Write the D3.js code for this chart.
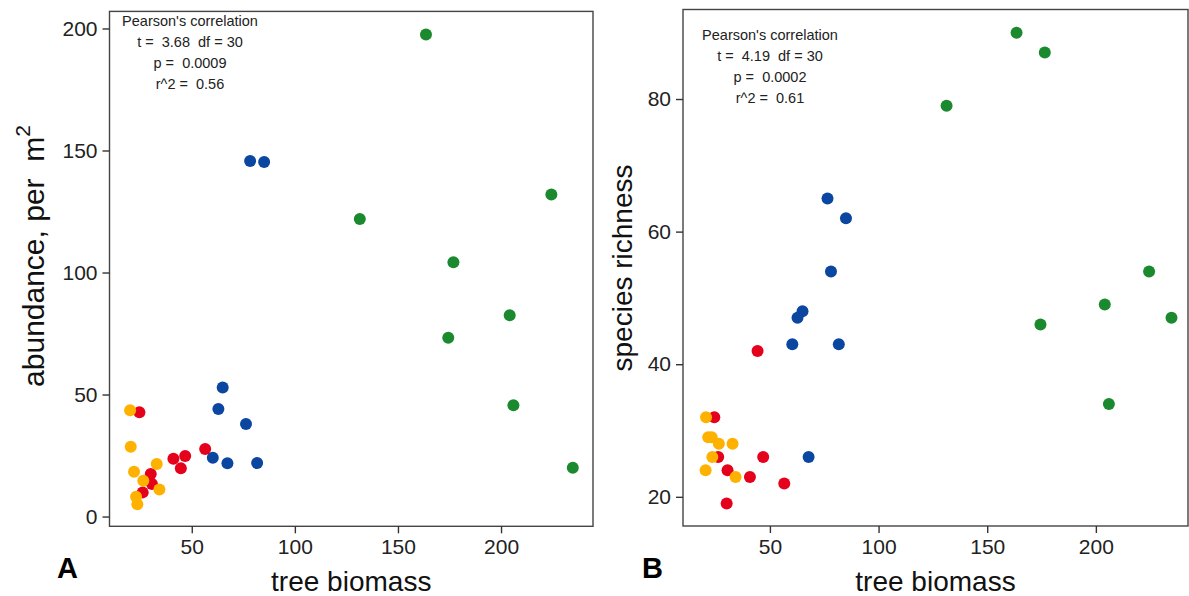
<!DOCTYPE html>
<html>
<head>
<meta charset="utf-8">
<script src="https://cdn.jsdelivr.net/npm/d3@7"></script>
<style>
  html, body { margin: 0; padding: 0; background: #fff; }
  svg text { font-family: "Liberation Sans", Arial, sans-serif; }
</style>
</head>
<body>
<svg id="chart" width="1189" height="596"></svg>
<script>
// ---- data ----
const groupNames = ["G1", "G2", "G3", "G4"];
const groupColors = ["#1b8a2f", "#0b46a1", "#e5001b", "#ffb100"];

// Panel A: tree biomass vs abundance per m^2
const biomassA_G1 = [163.6, 224.4, 131.5, 176.9, 204.2, 174.4, 206.0, 234.8];
const abundance_G1 = [197.5, 132.0, 121.9, 104.2, 82.5, 73.3, 45.6, 20.0];
const biomassA_G2 = [78.3, 85.1, 65.0, 62.9, 76.3, 60.2, 67.3, 81.7];
const abundance_G2 = [145.7, 145.3, 52.9, 44.1, 37.9, 24.1, 21.8, 21.9];
const biomassA_G3 = [24.6, 30.1, 30.7, 26.2, 41.1, 46.8, 44.7, 56.5];
const abundance_G3 = [42.7, 17.4, 13.3, 9.9, 23.7, 24.8, 19.8, 27.7];
const biomassA_G4 = [20.1, 20.4, 22.0, 33.0, 26.5, 34.3, 23.0, 23.6];
const abundance_G4 = [43.6, 28.6, 18.4, 21.5, 14.7, 11.1, 8.1, 5.0];

// Panel B: tree biomass vs species richness
const biomassB_G1 = [163.5, 176.5, 131.3, 224.5, 204.1, 234.8, 174.5, 206.0];
const richness_G1 = [90, 87, 79, 54, 49, 47, 46, 34];
const biomassB_G2 = [76.5, 85.0, 78.1, 65.0, 62.7, 60.3, 81.7, 67.8];
const richness_G2 = [65, 62, 54, 48, 47, 43, 43, 26];
const biomassB_G3 = [44.3, 24.4, 26.2, 46.9, 30.5, 40.8, 56.6, 30.1];
const richness_G3 = [42, 32, 26, 26, 24, 23, 22, 19];
const biomassB_G4 = [20.6, 21.6, 23.2, 26.5, 32.8, 23.5, 20.4, 34.2];
const richness_G4 = [32, 29, 29, 28, 28, 26, 24, 23];

const xTicks = [50, 100, 150, 200];
const yTicksA = [0, 50, 100, 150, 200];
const yTicksB = [20, 40, 60, 80];

const statsA = ["Pearson's correlation", "t =  3.68  df = 30", "p =  0.0009", "r^2 =  0.56"];
const statsB = ["Pearson's correlation", "t =  4.19  df = 30", "p =  0.0002", "r^2 =  0.61"];

function zipGroups(xs, ys) {
  const out = [];
  xs.forEach((xa, gi) => xa.forEach((x, i) => out.push({ g: gi, x: x, y: ys[gi][i] })));
  return out;
}
const pointsA = zipGroups([biomassA_G1, biomassA_G2, biomassA_G3, biomassA_G4],
                          [abundance_G1, abundance_G2, abundance_G3, abundance_G4]);
const pointsB = zipGroups([biomassB_G1, biomassB_G2, biomassB_G3, biomassB_G4],
                          [richness_G1, richness_G2, richness_G3, richness_G4]);

// ---- drawing ----
const svg = d3.select("#chart");
svg.append("rect").attr("width", 1189).attr("height", 596).attr("fill", "#fff");

function panel(cfg) {
  const x = d3.scaleLinear().domain(cfg.xDomain).range([cfg.left, cfg.right]);
  const y = d3.scaleLinear().domain(cfg.yDomain).range([cfg.bottom, cfg.top]);
  const g = svg.append("g");

  // points
  g.append("g").selectAll("circle").data(cfg.points).join("circle")
    .attr("cx", d => x(d.x)).attr("cy", d => y(d.y)).attr("r", 6)
    .attr("fill", d => groupColors[d.g]);

  // border
  g.append("rect")
    .attr("x", cfg.left).attr("y", cfg.top)
    .attr("width", cfg.right - cfg.left).attr("height", cfg.bottom - cfg.top)
    .attr("fill", "none").attr("stroke", "#444").attr("stroke-width", 1.4);

  const xAxis = g.append("g").attr("transform", `translate(0,${cfg.bottom})`)
    .call(d3.axisBottom(x).tickValues(xTicks).tickSize(7).tickSizeOuter(0).tickPadding(6));
  const yAxis = g.append("g").attr("transform", `translate(${cfg.left},0)`)
    .call(d3.axisLeft(y).tickValues(cfg.yTicks).tickSize(7).tickSizeOuter(0).tickPadding(5));
  [xAxis, yAxis].forEach(a => {
    a.select(".domain").remove();
    a.selectAll(".tick line").attr("stroke", "#333").attr("stroke-width", 1.4);
    a.selectAll(".tick text").attr("fill", "#222")
      .style("font-size", "21px").style("font-family", "'Liberation Sans', Arial, sans-serif");
  });

  // x title
  g.append("text").attr("x", (cfg.left + cfg.right) / 2).attr("y", 591)
    .attr("text-anchor", "middle").attr("fill", "#111").style("font-size", "28px")
    .text("tree biomass");

  // y title
  const yt = g.append("text")
    .attr("transform", `translate(${cfg.yTitleX},${cfg.yTitleY}) rotate(-90)`)
    .attr("text-anchor", "middle").attr("fill", "#111")
    .style("font-size", cfg.yTitleSize + "px").style("white-space", "pre")
    .attr("xml:space", "preserve");
  yt.append("tspan").text(cfg.yTitle);
  if (cfg.sup) {
    yt.append("tspan").attr("dy", -14).style("font-size", "21px").text(cfg.sup);
  }

  // panel letter
  g.append("text").attr("x", cfg.letterX).attr("y", 578)
    .attr("fill", "#000").style("font-size", "29px").style("font-weight", "bold")
    .text(cfg.letter);

  // stats annotation
  g.append("g").selectAll("text").data(cfg.stats).join("text")
    .attr("x", cfg.statsX).attr("y", (d, i) => cfg.statsY + i * 21)
    .attr("text-anchor", "middle").attr("fill", "#222")
    .style("font-size", "14.5px").style("white-space", "pre")
    .attr("xml:space", "preserve")
    .text(d => d);
}

panel({
  left: 109.5, right: 593, top: 11.4, bottom: 526.3,
  xDomain: [10.1, 244.6], yDomain: [-4, 207],
  yTicks: yTicksA, points: pointsA,
  yTitle: "abundance, per  m", sup: "2", yTitleSize: 30, yTitleX: 44, yTitleY: 256,
  letter: "A", letterX: 57,
  stats: statsA, statsX: 190, statsY: 25.5
});

panel({
  left: 683, right: 1188, top: 9.5, bottom: 526,
  xDomain: [10.0, 242.4], yDomain: [15.6, 93.5],
  yTicks: yTicksB, points: pointsB,
  yTitle: "species richness", sup: null, yTitleSize: 28, yTitleX: 632, yTitleY: 268,
  letter: "B", letterX: 642,
  stats: statsB, statsX: 770, statsY: 39.5
});
</script>
</body>
</html>
